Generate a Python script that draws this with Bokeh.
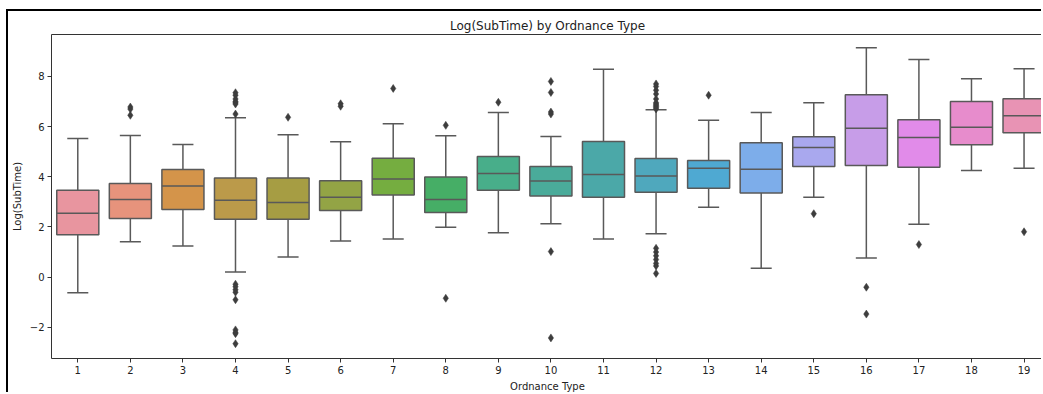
import numpy as np
from bokeh.plotting import figure
from bokeh.models import Range1d, FixedTicker, LinearAxis, ColumnDataSource
from bokeh.embed import file_html
from bokeh.resources import INLINE

# ---- data ----
categories = list(range(1, 20))
q1 = [1.69, 2.34, 2.70, 2.31, 2.31, 2.66, 3.27, 2.58, 3.46, 3.23,
      3.19, 3.38, 3.54, 3.35, 4.41, 4.45, 4.38, 5.28, 5.76]
medians = [2.55, 3.10, 3.63, 3.07, 2.98, 3.19, 3.91, 3.10, 4.13, 3.83,
           4.09, 4.03, 4.34, 4.30, 5.17, 5.93, 5.57, 5.97, 6.43]
q3 = [3.46, 3.73, 4.29, 3.95, 3.95, 3.84, 4.74, 3.99, 4.81, 4.41,
      5.41, 4.73, 4.65, 5.36, 5.60, 7.27, 6.27, 7.00, 7.11]
whisker_low = [-0.62, 1.41, 1.24, 0.21, 0.80, 1.44, 1.52, 1.99, 1.77, 2.13,
               1.52, 1.73, 2.79, 0.36, 3.19, 0.76, 2.11, 4.25, 4.34]
whisker_high = [5.53, 5.65, 5.29, 6.35, 5.68, 5.40, 6.11, 5.64, 6.56, 5.61,
                8.29, 6.67, 6.25, 6.56, 6.95, 9.14, 8.67, 7.91, 8.31]
outliers = [
    [],
    [6.78, 6.70, 6.45],
    [],
    [7.35, 7.25, 7.10, 7.00, 6.95, 6.90, 6.50, -0.28, -0.38, -0.50, -0.60, -0.90,
     -2.10, -2.20, -2.25, -2.65],
    [6.37],
    [6.91, 6.81],
    [7.52],
    [6.05, -0.84],
    [6.97],
    [7.80, 7.36, 6.58, 6.50, 1.02, -2.42],
    [],
    [7.70, 7.60, 7.45, 7.30, 7.10, 6.95, 6.90, 6.85, 6.80, 6.75, 6.70,
     1.15, 1.00, 0.85, 0.70, 0.55, 0.45, 0.15],
    [7.25],
    [],
    [2.53],
    [-0.40, -1.47],
    [1.30],
    [],
    [1.81],
]
box_colors = ["#e8959f", "#e7937c", "#d4944a", "#bb9a4a", "#a69d43", "#93a445",
              "#75ad40", "#46ae66", "#48ae8a", "#4aab9a", "#4ba8a8", "#4fa8bd",
              "#4fa9d2", "#7dadea", "#a9a8ee", "#c79de8", "#e18be9", "#e78ccc",
              "#e893b4"]
y_ticks = [-2, 0, 2, 4, 6, 8]

title_text = "Log(SubTime) by Ordnance Type"
x_label = "Ordnance Type"
y_label = "Log(SubTime)"

# ---- figure ----
FONT = "DejaVu Sans"
LINE = "#595959"
TXT = "#222222"

p = figure(width=1035, height=383, output_backend="svg", toolbar_location=None,
           x_range=Range1d(0.5, 19.37), y_range=Range1d(-3.24, 9.67),
           min_border_left=42, min_border_right=0, min_border_top=23,
           min_border_bottom=36, title=title_text)
p.styles = {"margin-left": "6px", "margin-top": "9px",
            "border-left": "2px solid black", "border-top": "2px solid black"}
p.outline_line_color = None
p.grid.visible = False
p.background_fill_color = "white"
p.border_fill_color = "white"

p.title.align = "center"
p.title.text_font = FONT
p.title.text_font_size = "12px"
p.title.text_font_style = "normal"
p.title.text_color = TXT
p.title.standoff = 4
p.title.offset = 0

cats = np.array(categories, dtype=float)
src = ColumnDataSource(dict(x=cats, q1=q1, med=medians, q3=q3,
                            lo=whisker_low, hi=whisker_high, color=box_colors,
                            xl=cats - 0.4, xr=cats + 0.4,
                            cl=cats - 0.2, cr=cats + 0.2))

# whiskers
p.segment(x0="x", y0="q3", x1="x", y1="hi", source=src, line_color=LINE, line_width=1.5)
p.segment(x0="x", y0="q1", x1="x", y1="lo", source=src, line_color=LINE, line_width=1.5)
# caps
p.segment(x0="cl", y0="hi", x1="cr", y1="hi", source=src, line_color=LINE, line_width=1.5)
p.segment(x0="cl", y0="lo", x1="cr", y1="lo", source=src, line_color=LINE, line_width=1.5)
# boxes
p.vbar(x="x", bottom="q1", top="q3", width=0.8, source=src, fill_color="color",
       line_color=LINE, line_width=1.5)
# medians
p.segment(x0="xl", y0="med", x1="xr", y1="med", source=src, line_color=LINE, line_width=1.5)

# outliers
ox = np.concatenate([[c] * len(o) for c, o in zip(categories, outliers)]).astype(float)
oy = np.concatenate([o for o in outliers if len(o)]).astype(float)
p.scatter(ox, oy, marker="diamond", size=8, fill_color="#3d3d3d", line_color="#3d3d3d",
          line_width=0.5)

# axes
for ax in (p.xaxis[0], p.yaxis[0]):
    ax.axis_line_color = "#333333"
    ax.axis_line_width = 1
    ax.major_tick_line_color = "#333333"
    ax.major_tick_in = 0
    ax.major_tick_out = 4
    ax.minor_tick_line_color = None
    ax.major_label_text_font = FONT
    ax.major_label_text_font_size = "10px"
    ax.major_label_text_color = TXT
    ax.major_label_standoff = 3
    ax.axis_label_text_font = FONT
    ax.axis_label_text_font_size = "10px"
    ax.axis_label_text_font_style = "normal"
    ax.axis_label_text_color = TXT
    ax.axis_label_standoff = 4

p.xaxis[0].ticker = FixedTicker(ticks=categories)
p.xaxis[0].axis_label = x_label
p.yaxis[0].ticker = FixedTicker(ticks=y_ticks)
p.yaxis[0].axis_label = y_label
p.yaxis[0].major_label_overrides = {t: (("\u2212" + str(-t)) if t < 0 else str(t)) for t in y_ticks}

top = LinearAxis(axis_line_color="#333333", major_tick_line_color=None,
                 minor_tick_line_color=None, major_label_text_font_size="0px",
                 ticker=FixedTicker(ticks=[]))
p.add_layout(top, "above")

open("out.html", "w").write(file_html(p, INLINE))
